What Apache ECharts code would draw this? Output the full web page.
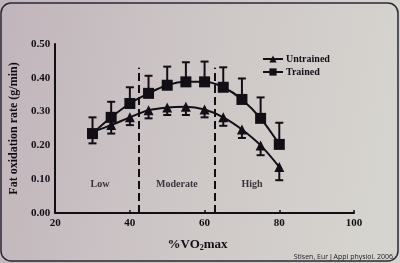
<!DOCTYPE html>
<html><head><meta charset="utf-8">
<script src="https://cdn.jsdelivr.net/npm/echarts@6/dist/echarts.min.js"></script>
<style>html,body{margin:0;padding:0;}#c{width:400px;height:263px;}</style>
</head><body><div id="c"></div>
<script>
const xValues = [30, 35, 40, 45, 50, 55, 60, 65, 70, 75, 80];
const trained = [0.235, 0.283, 0.324, 0.354, 0.378, 0.388, 0.388, 0.372, 0.336, 0.280, 0.203];
const trainedTop = [0.283, 0.329, 0.372, 0.406, 0.433, 0.446, 0.448, 0.431, 0.398, 0.342, 0.267];
const untrained = [0.240, 0.260, 0.283, 0.304, 0.312, 0.314, 0.306, 0.283, 0.247, 0.200, 0.136];
const untrainedBottom = [0.206, 0.235, 0.260, 0.280, 0.290, 0.290, 0.283, 0.258, 0.222, 0.171, 0.097];
const zoneBounds = [42.5, 62.6];
const zoneTop = 0.43;
const zoneNames = ['Low', 'Moderate', 'High'];
const zoneLabelX = [32, 52.6, 72.7];
const zoneLabelY = 0.085;
const yTicks = [0, 0.1, 0.2, 0.3, 0.4, 0.5];
const xTicks = [20, 40, 60, 80, 100];

const ink = '#120e16';
const serif = '"Liberation Serif", "DejaVu Serif", serif';

function errSeries(vals, ends, name) {
  return {
    type: 'custom', name: name + ' err', z: 2,
    data: xValues.map((x, i) => [x, vals[i], ends[i]]),
    renderItem: function (params, api) {
      const p0 = api.coord([api.value(0), api.value(1)]);
      const p1 = api.coord([api.value(0), api.value(2)]);
      const w = 4;
      const st = { stroke: ink, lineWidth: 2 };
      return { type: 'group', children: [
        { type: 'line', shape: { x1: p0[0], y1: p0[1], x2: p1[0], y2: p1[1] }, style: st },
        { type: 'line', shape: { x1: p1[0] - w, y1: p1[1], x2: p1[0] + w, y2: p1[1] }, style: st }
      ]};
    }
  };
}

const chart = echarts.init(document.getElementById('c'));
chart.setOption({
  animation: false,
  backgroundColor: new echarts.graphic.LinearGradient(0, 0, 1, 0.3, [
    { offset: 0, color: '#c0b5bb' }, { offset: 0.5, color: '#cdc6c6' }, { offset: 1, color: '#d6d4cf' }
  ]),
  grid: { left: 55, right: 46, top: 44, bottom: 50 },
  legend: {
    data: ['Untrained', 'Trained'], orient: 'vertical', left: 257, top: 49,
    itemWidth: 20, itemHeight: 9, itemGap: 3,
    textStyle: { fontFamily: serif, fontWeight: 'bold', fontSize: 10, color: ink, padding: [0, 0, 0, -2] }
  },
  xAxis: {
    type: 'value', min: 20, max: 100, interval: 20,
    name: '{a|%VO}{s|2}{a|max}', nameLocation: 'middle', nameGap: 25,
    nameTextStyle: { padding: [0, 14, 0, 0], rich: {
      a: { fontFamily: serif, fontWeight: 'bold', fontSize: 13, color: ink },
      s: { fontFamily: serif, fontWeight: 'bold', fontSize: 8, color: ink, verticalAlign: 'bottom', padding: [6, 0, 0, 0] }
    }},
    axisLine: { lineStyle: { color: ink, width: 2 } },
    axisTick: { show: true, inside: true, length: 3, lineStyle: { color: ink, width: 1.5 } },
    axisLabel: { fontFamily: serif, fontWeight: 'bold', fontSize: 11, color: ink, margin: 5,
      customValues: xTicks },
    splitLine: { show: false }
  },
  yAxis: {
    type: 'value', min: 0, max: 0.5, interval: 0.1,
    name: 'Fat oxidation rate (g/min)', nameLocation: 'middle', nameGap: 31,
    nameTextStyle: { fontFamily: serif, fontWeight: 'bold', fontSize: 12, color: ink },
    axisLine: { show: true, lineStyle: { color: ink, width: 2 } },
    axisTick: { show: false },
    axisLabel: { fontFamily: serif, fontWeight: 'bold', fontSize: 11, color: ink, margin: 5,
      formatter: v => v.toFixed(2) },
    splitLine: { show: false }
  },
  series: [
    errSeries(untrained, untrainedBottom, 'Untrained'),
    errSeries(trained, trainedTop, 'Trained'),
    {
      type: 'line', name: 'Untrained', z: 3,
      data: xValues.map((x, i) => [x, untrained[i]]),
      smooth: 0.35, symbol: 'triangle', symbolSize: 10, showSymbol: true,
      lineStyle: { color: ink, width: 2 }, itemStyle: { color: ink }
    },
    {
      type: 'line', name: 'Trained', z: 3,
      data: xValues.map((x, i) => [x, trained[i]]),
      smooth: 0.35, symbol: 'rect', symbolSize: 11, showSymbol: true,
      lineStyle: { color: ink, width: 2 }, itemStyle: { color: ink },
      markLine: {
        silent: true, symbol: 'none', label: { show: false },
        lineStyle: { color: ink, width: 2, type: [8, 4] },
        data: zoneBounds.map(b => [{ coord: [b, 0] }, { coord: [b, zoneTop] }])
      }
    },
    {
      type: 'scatter', name: 'zones', symbolSize: 0, silent: true,
      data: zoneNames.map((n, i) => ({ value: [zoneLabelX[i], zoneLabelY], name: n })),
      label: { show: true, position: 'inside', formatter: p => p.name,
        fontFamily: serif, fontWeight: 'bold', fontSize: 10, color: ink }
    }
  ],
  graphic: [
    { type: 'text', right: 7, bottom: 3, style: { text: 'Stisen, Eur J Appl physiol. 2006',
      font: '7px "Open Sans", "DejaVu Sans", sans-serif', fill: '#1e1a24' } },
    { type: 'rect', shape: { x: 1, y: 3, width: 397, height: 258, r: 10 },
      style: { fill: 'none', stroke: '#2a2836', lineWidth: 1.5 }, silent: true }
  ]
});
</script></body></html>
